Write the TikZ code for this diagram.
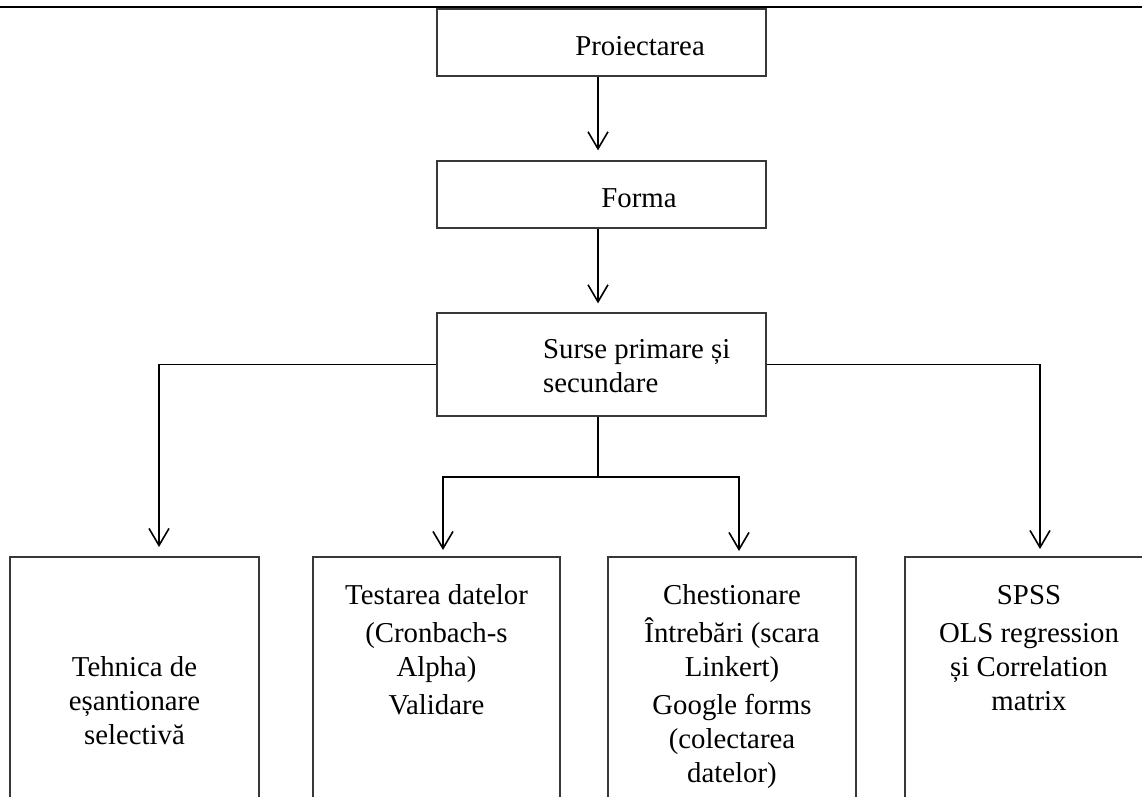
\documentclass[tikz,border=0pt]{standalone}
\usepackage{fontspec}
\setmainfont{Liberation Serif}
\usetikzlibrary{arrows.meta}
\begin{document}
\begin{tikzpicture}[x=1pt,y=-1pt,
  box/.style={draw=black!78, line width=1.3pt, inner sep=0pt, rectangle},
  conn/.style={line width=1.4pt, draw=black},
  arr/.style={conn, -{Straight Barb[length=17pt,width=20pt,line width=1.6pt]}},
  txt/.style={inner sep=0pt, font=\fontsize{28.8pt}{34pt}\selectfont}]
\clip (0,0) rectangle (1142,796);
\fill[white] (0,0) rectangle (1142,796);
\draw[line width=2pt] (0,7) -- (1142,7);
% top boxes
\node[box, minimum width=329pt, minimum height=67pt] (p) at (601.5,42.5) {};
\node[txt, anchor=base] (pt) at (640,55) {Proiectarea};
\node[box, minimum width=329pt, minimum height=67pt] (f) at (601.5,194.5) {};
\node[txt, anchor=base] (ft) at (639,207) {Forma};
\node[box, minimum width=329pt, minimum height=103pt] (s) at (601.5,364.5) {};
\node[txt, anchor=base west] (st) at (543,358) {\begin{tabular}[t]{@{}l@{}}Surse primare și\\ secundare\end{tabular}};
% bottom boxes
\node[box, minimum width=249pt, minimum height=286pt] (b1) at (134.5,700) {};
\node[box, minimum width=247pt, minimum height=286pt] (b2) at (436.5,700) {};
\node[box, minimum width=248pt, minimum height=286pt] (b3) at (732,700) {};
\node[box, minimum width=248pt, minimum height=286pt] (b4) at (1029,700) {};
\node[txt, anchor=base] (b1t) at (134.5,676) {\begin{tabular}[t]{@{}c@{}}Tehnica de\\ eșantionare\\ selectivă\end{tabular}};
\node[txt, anchor=base] (b2t) at (436.5,604) {\begin{tabular}[t]{@{}c@{}}Testarea datelor\\[4pt] (Cronbach-s\\ Alpha)\\[4pt] Validare\end{tabular}};
\node[txt, anchor=base] (b3t) at (732,604) {\begin{tabular}[t]{@{}c@{}}Chestionare\\[4pt] Întrebări (scara\\ Linkert)\\[4pt] Google forms\\ (colectarea\\ datelor)\end{tabular}};
\node[txt, anchor=base] (b4t) at (1029,604) {\begin{tabular}[t]{@{}c@{}}SPSS\\[4pt] OLS regression\\ și Correlation\\ matrix\end{tabular}};
% connectors
\coordinate (j) at (598,477);
\coordinate (t1) at (159,547);
\coordinate (t2) at (443,550);
\coordinate (t3) at (739,551);
\coordinate (t4) at (1040,549);
\draw[arr, shorten >=10pt] (p.south -| j) -- (f.north -| j);
\draw[arr, shorten >=9pt] (f.south -| j) -- (s.north -| j);
\draw[conn] (s.south -| j) -- (j);
\draw[arr] (j) -| (t2);
\draw[arr] (j) -| (t3);
\draw[arr] (s.west) -| (t1);
\draw[arr] (s.east) -| (t4);
\end{tikzpicture}
\end{document}
